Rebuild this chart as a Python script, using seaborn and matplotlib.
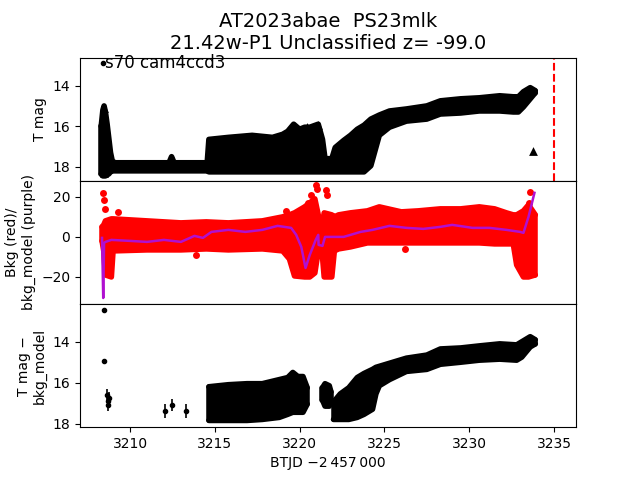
import numpy as np
import pandas as pd
import matplotlib
matplotlib.use("Agg")
import matplotlib.pyplot as plt
import seaborn as sns

# ---------------- data ----------------
title_lines = ["AT2023abae  PS23mlk", "21.42w-P1 Unclassified z= -99.0"]
field_label = "s70 cam4ccd3"

# top panel: envelope of the dense T-mag cloud
top_t = [3208.30, 3208.40, 3208.47, 3208.55, 3208.65, 3208.75, 3208.85, 3208.95, 3209.10,
         3212.30, 3212.45, 3212.60, 3214.55, 3214.65, 3215.80, 3217.20, 3218.40, 3219.00,
         3219.30, 3219.65, 3220.00, 3220.30, 3220.60, 3221.10, 3221.35, 3221.50, 3221.90,
         3222.10, 3222.60, 3223.00, 3223.40, 3223.80, 3224.20, 3224.70, 3225.30, 3226.30,
         3227.50, 3228.30, 3229.50, 3230.60, 3231.80, 3232.60, 3232.90, 3233.20, 3233.60, 3233.90]
top_hi = [16.0, 15.2, 15.0, 15.3, 15.9, 16.6, 17.3, 17.7, 17.8,
          17.8, 17.5, 17.8, 17.8, 16.65, 16.55, 16.45, 16.55, 16.4,
          16.25, 15.9, 16.15, 16.05, 16.05, 15.9, 16.65, 17.6, 17.6,
          17.05, 16.7, 16.45, 16.15, 15.95, 15.65, 15.45, 15.25, 15.15,
          15.0, 14.75, 14.65, 14.6, 14.5, 14.55, 14.55, 14.3, 14.1, 14.25]
top_lo = [18.35, 18.45, 18.45, 18.45, 18.4, 18.35, 18.25, 18.2, 18.2,
          18.2, 18.2, 18.2, 18.2, 18.25, 18.25, 18.25, 18.25, 18.25,
          18.25, 18.25, 18.25, 18.25, 18.25, 18.25, 18.25, 18.25, 18.25,
          18.25, 18.25, 18.25, 18.25, 18.25, 17.95, 16.45, 16.05, 15.75,
          15.65, 15.4, 15.35, 15.25, 15.25, 15.3, 15.3, 15.05, 14.65, 14.35]
# upper limits (triangles)
lim_t = [3208.45, 3208.45, 3208.45, 3208.45, 3208.45, 3208.45, 3208.45, 3208.45, 3208.45,
         3219.90, 3220.45, 3221.10, 3233.75]
lim_m = [15.1, 15.5, 15.9, 16.3, 16.7, 17.1, 17.5, 17.9, 18.3,
         16.2, 16.05, 15.95, 17.2]
flag_t = 3235.0

# middle panel: background (red) envelope and model (purple)
mid_t = [3208.35, 3208.45, 3208.55, 3208.90, 3209.00, 3211.00, 3213.00, 3214.50, 3215.80,
         3217.80, 3219.00, 3219.40, 3219.70, 3220.30, 3220.60, 3220.90, 3221.10, 3221.30,
         3221.45, 3221.90, 3222.05, 3222.30, 3223.00, 3224.00, 3224.70, 3226.00, 3227.00,
         3228.30, 3229.50, 3230.60, 3231.50, 3232.20, 3232.60, 3232.80, 3233.20, 3233.50, 3233.90]
mid_hi = [5, 6, 8, 9, 9, 8, 7, 7.5, 7,
          8, 10, 11, 12, 15, 17, 19, 11, 4,
          12, 11, 10, 11, 12, 13, 15, 12.5, 13,
          14, 14, 15, 14, 12, 11, 11, 13, 16, 11]
mid_lo = [-2, -7, -19, -20, -7, -6.5, -6.5, -6, -6.5,
          -6, -7, -11, -19.5, -20, -20, -18, -7, -5,
          -20, -20, -7, -6, -5, -3, -3, -3, -3,
          -3, -3, -3, -3.5, -3.5, -3.5, -14, -20, -20, -19]
bkg_pt_t = [3208.40, 3208.45, 3208.50, 3208.42, 3220.95, 3221.00, 3220.70, 3220.50,
            3221.55, 3221.60, 3233.60, 3233.50, 3209.30, 3213.90, 3226.20, 3219.20]
bkg_pt_v = [22, 18.5, 14, 4.5, 26, 24, 21, 17,
            23.5, 21, 22.5, 17, 12.5, -9, -6, 13]
mod_t = [3208.35, 3208.42, 3208.47, 3208.55, 3208.90, 3210.0, 3211.0, 3212.0, 3213.0,
         3213.8, 3214.3, 3214.8, 3215.8, 3216.8, 3217.8, 3218.7, 3219.5, 3219.8, 3220.1,
         3220.35, 3220.6, 3220.95, 3221.1, 3221.12, 3221.35, 3221.5, 3222.6, 3223.6, 3224.3,
         3225.3, 3226.3, 3227.3, 3228.3, 3229.0, 3230.2, 3231.2, 3232.2, 3233.0, 3233.2,
         3233.5, 3233.85]
mod_v = [-0.5, -30.5, -3, -2.5, -1.5, -2.0, -2.5, -1.5, -2.5,
         0.5, -0.5, 2.5, 3.5, 2.5, 3.5, 5.5, 4.5, 1, -5,
         -15.5, -9, -1.5, 1, -4, -4.5, 0, 0, 2.5, 3.5,
         5.5, 4.5, 4.0, 5.0, 6.0, 4.5, 4.5, 3.5, 2.5, 2.0,
         10, 22]

# bottom panel: background-subtracted envelope (segments) and isolated points
bot_seg = [1] * 10 + [2] * 4 + [3] * 19
bot_t = [3214.65, 3215.8, 3216.9, 3217.8, 3218.8, 3219.3, 3219.6, 3219.9, 3220.2, 3220.45,
         3221.35, 3221.5, 3221.75, 3221.85,
         3222.0, 3222.4, 3222.9, 3223.4, 3223.8, 3224.3, 3224.5, 3224.7, 3225.3, 3226.3,
         3227.5, 3228.3, 3229.5, 3230.6, 3231.8, 3232.8, 3233.1, 3233.6, 3233.9]
bot_hi = [16.2, 16.1, 16.05, 16.05, 15.85, 15.75, 15.5, 15.7, 15.7, 16.25,
          16.25, 16.05, 16.15, 16.45,
          16.95, 16.55, 16.25, 15.75, 15.55, 15.35, 15.25, 15.2, 15.05, 14.8,
          14.65, 14.35, 14.3, 14.2, 14.1, 14.15, 14.0, 13.75, 13.9]
bot_lo = [17.85, 17.85, 17.85, 17.8, 17.7, 17.55, 17.45, 17.45, 17.45, 17.05,
          16.85, 17.15, 17.15, 16.85,
          17.8, 17.8, 17.8, 17.7, 17.55, 17.3, 16.55, 16.15, 15.85, 15.45,
          15.35, 15.1, 15.0, 14.9, 14.85, 14.9, 14.75, 14.25, 14.1]
iso_t = [3208.47, 3208.47, 3208.65, 3208.70, 3208.72, 3208.75, 3212.05, 3212.47, 3213.30]
iso_m = [12.45, 14.95, 16.6, 16.9, 17.1, 16.75, 17.4, 17.1, 17.4]
iso_e = [0.05, 0.05, 0.3, 0.3, 0.3, 0.3, 0.35, 0.3, 0.35]


def blob(ax, t, hi, lo, color):
    """filled envelope with rounded, marker-like edges"""
    ax.fill_between(t, hi, lo, color=color, linewidth=0)
    for edge in (hi, lo):
        ax.plot(t, edge, color=color, linewidth=4, solid_joinstyle="round",
                solid_capstyle="round")
    for i in (0, -1):
        ax.plot([t[i], t[i]], [hi[i], lo[i]], color=color, linewidth=4,
                solid_capstyle="round")


# ---------------- figure ----------------
fig, axes = plt.subplots(3, 1, figsize=(6.4, 4.8), dpi=100, sharex=True)
fig.subplots_adjust(hspace=0)
ax1, ax2, ax3 = axes

# top
blob(ax1, top_t, top_hi, top_lo, "black")
sns.scatterplot(x=lim_t, y=lim_m, marker="^", color="black", s=40, edgecolor="black",
                linewidth=0, ax=ax1, legend=False)
ax1.axvline(flag_t, color="red", linestyle="--", linewidth=1.5)
ax1.plot([3208.42], [12.9], "o", color="black", ms=3)
ax1.text(3208.5, 12.9, field_label, fontsize=12, va="center", ha="left")
ax1.set_ylim(18.69, 12.62)
ax1.set_yticks([14, 16, 18])
ax1.set_ylabel("T mag")
ax1.set_title("\n".join(title_lines), fontsize=14)

# middle
blob(ax2, mid_t, mid_hi, mid_lo, "red")
sns.scatterplot(x=bkg_pt_t, y=bkg_pt_v, color="red", s=25, linewidth=0, ax=ax2, legend=False)
mod_df = pd.DataFrame({"t": mod_t, "v": mod_v})
sns.lineplot(data=mod_df, x="t", y="v", color="#b010d0", linewidth=1.8, sort=False,
             estimator=None, ax=ax2)
ax2.set_ylim(-33.5, 28)
ax2.set_yticks([20, 0, -20])
ax2.set_ylabel("Bkg (red)/\nbkg_model (purple)")

# bottom
for sg in sorted(set(bot_seg)):
    idx = [i for i, s in enumerate(bot_seg) if s == sg]
    blob(ax3, [bot_t[i] for i in idx], [bot_hi[i] for i in idx],
         [bot_lo[i] for i in idx], "black")
ax3.errorbar(iso_t, iso_m, yerr=iso_e, fmt="o", color="black", ms=3, elinewidth=1.2)
ax3.set_ylim(18.18, 12.15)
ax3.set_yticks([14, 16, 18])
ax3.set_ylabel("T mag \u2212\nbkg_model")
ax3.set_xlabel("BTJD \u22122\u2009457\u2009000")

ax3.set_xlim(3207.05, 3236.3)
ax3.set_xticks([3210, 3215, 3220, 3225, 3230, 3235])
for ax in (ax1, ax2):
    ax.tick_params(axis="x", bottom=False, labelbottom=False)
    ax.set_xlabel("")

fig.savefig("out.png", dpi=100)
